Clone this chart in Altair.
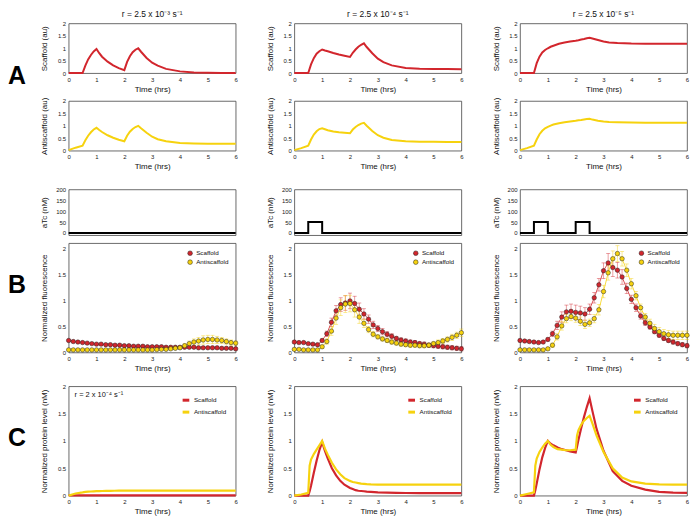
import altair as alt
import pandas as pd

FONT = "Liberation Sans"
RED = "#d2262d"
YELLOW = "#f6d20e"
SERIES = ["Scaffold", "Antiscaffold"]

# ---------------- Panel A: model traces ----------------
T_MODEL = [0, 0.25, 0.5, 0.6, 0.7, 0.8, 0.9, 1.0, 1.1, 1.2,
           1.4, 1.6, 1.8, 2.0, 2.1, 2.2, 2.3, 2.4, 2.5, 2.6,
           2.8, 3.0, 3.2, 3.5, 4.0, 4.5, 5.0, 5.5, 6.0]
SCAF_R3 = [0, 0, 0, 0.3, 0.55, 0.73, 0.87, 0.97, 0.8, 0.66,
           0.46, 0.31, 0.2, 0.12, 0.45, 0.68, 0.84, 0.94, 1.0, 0.86,
           0.61, 0.42, 0.3, 0.17, 0.07, 0.025, 0.01, 0.004, 0.0]
ANTI_R3 = [0.02, 0.12, 0.2, 0.42, 0.6, 0.74, 0.85, 0.92, 0.83, 0.75,
           0.62, 0.52, 0.44, 0.38, 0.6, 0.76, 0.87, 0.95, 1.0, 0.9,
           0.72, 0.56, 0.46, 0.38, 0.31, 0.29, 0.28, 0.28, 0.28]
SCAF_R4 = [0, 0, 0, 0.35, 0.6, 0.78, 0.88, 0.95, 0.91, 0.88,
           0.81, 0.75, 0.7, 0.65, 0.82, 0.95, 1.06, 1.14, 1.2, 1.05,
           0.8, 0.58, 0.44, 0.31, 0.21, 0.18, 0.17, 0.165, 0.16]
ANTI_R4 = [0.02, 0.1, 0.2, 0.45, 0.65, 0.78, 0.87, 0.9, 0.86, 0.82,
           0.77, 0.74, 0.72, 0.7, 0.85, 0.95, 1.03, 1.09, 1.12, 1.0,
           0.79, 0.62, 0.52, 0.43, 0.38, 0.36, 0.355, 0.35, 0.35]
SCAF_R5 = [0, 0, 0, 0.4, 0.66, 0.83, 0.93, 1.0, 1.06, 1.1,
           1.18, 1.23, 1.27, 1.3, 1.32, 1.35, 1.37, 1.4, 1.42, 1.39,
           1.33, 1.27, 1.23, 1.21, 1.19, 1.185, 1.18, 1.18, 1.18]
ANTI_R5 = [0.02, 0.1, 0.2, 0.45, 0.66, 0.8, 0.9, 0.96, 1.01, 1.05,
           1.1, 1.14, 1.17, 1.2, 1.22, 1.23, 1.25, 1.27, 1.28, 1.25,
           1.2, 1.17, 1.15, 1.14, 1.13, 1.125, 1.12, 1.12, 1.12]
TITLES = ["r = 2.5 x 10\u207b\u00b3 s\u207b\u00b9",
          "r = 2.5 x 10\u207b\u2074 s\u207b\u00b9",
          "r = 2.5 x 10\u207b\u2075 s\u207b\u00b9"]

# ---------------- Panel B: aTc input and fluorescence ----------------
ATC_T_1 = [0, 6]
ATC_1 = [0, 0]
ATC_T_2 = [0, 0.5, 1.0, 6]
ATC_2 = [0, 50, 0, 0]
ATC_T_3 = [0, 0.5, 1.0, 2.0, 2.5, 6]
ATC_3 = [0, 50, 0, 50, 0, 0]

T_FLUOR = [round(k / 6, 4) for k in range(37)]  # 10-minute samples
F_SCAF_1 = [0.23, 0.21, 0.2, 0.19, 0.18, 0.17, 0.16, 0.16, 0.15, 0.15,
            0.14, 0.14, 0.13, 0.13, 0.12, 0.12, 0.12, 0.11, 0.11, 0.11,
            0.11, 0.1, 0.1, 0.1, 0.1, 0.1, 0.1, 0.1, 0.09, 0.09,
            0.09, 0.09, 0.09, 0.08, 0.08, 0.08, 0.07]
F_ANTI_1 = [0.05, 0.05, 0.05, 0.05, 0.05, 0.05, 0.05, 0.05, 0.05, 0.05,
            0.05, 0.05, 0.05, 0.05, 0.05, 0.05, 0.05, 0.05, 0.05, 0.055,
            0.06, 0.06, 0.07, 0.08, 0.09, 0.13, 0.17, 0.2, 0.22, 0.24,
            0.25, 0.25, 0.24, 0.23, 0.21, 0.19, 0.18]
E_SCAF_1 = [0.02, 0.02, 0.02, 0.02, 0.02, 0.02, 0.02, 0.02, 0.02, 0.02,
            0.02, 0.02, 0.02, 0.02, 0.02, 0.02, 0.02, 0.02, 0.02, 0.02,
            0.02, 0.02, 0.02, 0.02, 0.02, 0.02, 0.02, 0.02, 0.02, 0.02,
            0.02, 0.02, 0.02, 0.02, 0.02, 0.02, 0.02]
E_ANTI_1 = [0.015, 0.015, 0.015, 0.015, 0.015, 0.015, 0.015, 0.015, 0.015, 0.015,
            0.015, 0.015, 0.015, 0.015, 0.015, 0.015, 0.015, 0.015, 0.015, 0.015,
            0.015, 0.015, 0.015, 0.015, 0.02, 0.04, 0.05, 0.06, 0.07, 0.08,
            0.08, 0.08, 0.07, 0.06, 0.05, 0.05, 0.04]
F_SCAF_2 = [0.2, 0.19, 0.19, 0.17, 0.16, 0.15, 0.23, 0.36, 0.58, 0.8,
            0.92, 0.95, 0.99, 0.94, 0.83, 0.74, 0.64, 0.53, 0.46, 0.4,
            0.35, 0.31, 0.27, 0.24, 0.22, 0.2, 0.19, 0.17, 0.16, 0.14,
            0.13, 0.12, 0.11, 0.1, 0.09, 0.08, 0.07]
F_ANTI_2 = [0.06, 0.06, 0.05, 0.05, 0.05, 0.05, 0.11, 0.21, 0.41, 0.66,
            0.86, 0.93, 0.94, 0.82, 0.68, 0.56, 0.44, 0.35, 0.3, 0.26,
            0.23, 0.2, 0.18, 0.16, 0.15, 0.14, 0.14, 0.13, 0.13, 0.14,
            0.17, 0.19, 0.22, 0.25, 0.29, 0.33, 0.38]
E_SCAF_2 = [0.02, 0.02, 0.02, 0.02, 0.02, 0.02, 0.03, 0.05, 0.08, 0.1,
            0.13, 0.14, 0.15, 0.14, 0.12, 0.1, 0.08, 0.07, 0.06, 0.06,
            0.05, 0.05, 0.04, 0.04, 0.04, 0.04, 0.04, 0.04, 0.04, 0.04,
            0.04, 0.04, 0.04, 0.04, 0.04, 0.04, 0.04]
E_ANTI_2 = [0.02, 0.02, 0.02, 0.02, 0.02, 0.02, 0.03, 0.05, 0.08, 0.12,
            0.15, 0.16, 0.16, 0.14, 0.12, 0.08, 0.06, 0.05, 0.04, 0.04,
            0.04, 0.04, 0.04, 0.04, 0.04, 0.04, 0.04, 0.04, 0.04, 0.04,
            0.04, 0.05, 0.05, 0.05, 0.06, 0.06, 0.07]
F_SCAF_3 = [0.23, 0.22, 0.21, 0.2, 0.19, 0.2, 0.25, 0.36, 0.52, 0.68,
            0.78, 0.79, 0.77, 0.76, 0.74, 0.83, 1.05, 1.3, 1.57, 1.72,
            1.63, 1.58, 1.45, 1.23, 1.02, 0.86, 0.7, 0.57, 0.49, 0.4,
            0.33, 0.27, 0.23, 0.2, 0.17, 0.15, 0.13]
F_ANTI_3 = [0.05, 0.05, 0.05, 0.05, 0.05, 0.05, 0.07, 0.14, 0.3, 0.51,
            0.65, 0.69, 0.66, 0.6, 0.54, 0.57, 0.65, 0.82, 1.17, 1.53,
            1.8, 1.9, 1.8, 1.58, 1.32, 1.09, 0.86, 0.68, 0.56, 0.46,
            0.4, 0.36, 0.34, 0.33, 0.33, 0.33, 0.33]
E_SCAF_3 = [0.02, 0.02, 0.02, 0.02, 0.02, 0.02, 0.03, 0.05, 0.08, 0.1,
            0.13, 0.14, 0.14, 0.13, 0.12, 0.1, 0.1, 0.12, 0.15, 0.18,
            0.17, 0.15, 0.14, 0.1, 0.08, 0.07, 0.06, 0.05, 0.04, 0.04,
            0.04, 0.04, 0.04, 0.04, 0.04, 0.04, 0.04]
E_ANTI_3 = [0.02, 0.02, 0.02, 0.02, 0.02, 0.02, 0.02, 0.04, 0.06, 0.08,
            0.08, 0.08, 0.08, 0.08, 0.08, 0.07, 0.08, 0.1, 0.12, 0.14,
            0.15, 0.15, 0.14, 0.12, 0.1, 0.08, 0.07, 0.07, 0.08, 0.08,
            0.08, 0.08, 0.08, 0.08, 0.08, 0.08, 0.08]

# ---------------- Panel C: normalized model protein ----------------
T_C = [0, 0.25, 0.5, 0.55, 0.6, 0.7, 0.8, 0.9, 1.0, 1.1,
       1.2, 1.35, 1.5, 1.65, 1.8, 2.0, 2.05, 2.1, 2.2, 2.3,
       2.4, 2.5, 2.6, 2.75, 3.0, 3.33, 3.67, 4.0, 4.5, 5.0,
       5.5, 6.0]
C_SCAF_1 = [0.005, 0.005, 0.005, 0.005, 0.005, 0.005, 0.005, 0.005, 0.005, 0.005,
            0.005, 0.005, 0.005, 0.005, 0.005, 0.005, 0.005, 0.005, 0.005, 0.005,
            0.005, 0.005, 0.005, 0.005, 0.005, 0.005, 0.005, 0.005, 0.005, 0.005,
            0.005, 0.005]
C_ANTI_1 = [0, 0.04, 0.06, 0.065, 0.068, 0.072, 0.076, 0.079, 0.082, 0.084,
            0.085, 0.087, 0.088, 0.089, 0.09, 0.09, 0.09, 0.09, 0.09, 0.09,
            0.09, 0.09, 0.09, 0.09, 0.09, 0.09, 0.09, 0.09, 0.09, 0.09,
            0.09, 0.09]
C_SCAF_2 = [0, 0, 0, 0.08, 0.18, 0.42, 0.64, 0.83, 0.98, 0.82,
            0.68, 0.5, 0.37, 0.27, 0.2, 0.14, 0.13, 0.12, 0.1, 0.09,
            0.085, 0.08, 0.075, 0.07, 0.06, 0.055, 0.05, 0.048, 0.046, 0.045,
            0.045, 0.045]
C_ANTI_2 = [0, 0.02, 0.05, 0.55, 0.66, 0.76, 0.84, 0.92, 1.0, 0.86,
            0.75, 0.6, 0.48, 0.39, 0.32, 0.27, 0.26, 0.25, 0.24, 0.23,
            0.22, 0.215, 0.21, 0.205, 0.2, 0.2, 0.2, 0.2, 0.2, 0.2,
            0.2, 0.2]
C_SCAF_3 = [0, 0, 0, 0.1, 0.22, 0.48, 0.7, 0.87, 1.0, 0.95,
            0.92, 0.88, 0.85, 0.83, 0.81, 0.79, 0.9, 1.02, 1.24, 1.44,
            1.62, 1.78, 1.55, 1.22, 0.82, 0.45, 0.27, 0.18, 0.11, 0.07,
            0.055, 0.05]
C_ANTI_3 = [0, 0.03, 0.06, 0.55, 0.68, 0.8, 0.88, 0.95, 1.0, 0.93,
            0.89, 0.85, 0.84, 0.83, 0.83, 0.84, 1.1, 1.2, 1.3, 1.37,
            1.42, 1.46, 1.32, 1.1, 0.8, 0.5, 0.33, 0.26, 0.22, 0.205,
            0.2, 0.2]
C_NOTE = "r = 2 x 10\u207b\u2074 s\u207b\u00b9"

# ---------------- layout ----------------
W = 168
H_A = 50
H_ATC = 46
H_F = 110
H_C = 110

XS = alt.Scale(domain=[0, 6], nice=False, zero=False)
CSCALE = alt.Scale(domain=SERIES, range=[RED, YELLOW])
SERIES_COLOR = {SERIES[0]: RED, SERIES[1]: YELLOW}


def x_axis():
    return alt.Axis(values=[0, 1, 2, 3, 4, 5, 6], format="d", labelFlush=False,
                    title="Time (hrs)")


def a_panel(times, vals, color, ytitle, title=None):
    df = pd.DataFrame({"t": times, "v": vals})
    ch = alt.Chart(df).mark_line(color=color, strokeWidth=2).encode(
        x=alt.X("t:Q", scale=XS, axis=x_axis()),
        y=alt.Y("v:Q", scale=alt.Scale(domain=[0, 2], nice=False),
                axis=alt.Axis(values=[0, 0.5, 1, 1.5, 2], format="~g", title=ytitle)),
    )
    if title:
        return ch.properties(width=W, height=H_A, title=alt.Title(title))
    return ch.properties(width=W, height=H_A)


def atc_panel(times, vals):
    df = pd.DataFrame({"t": times, "v": vals})
    return alt.Chart(df).mark_line(color="black", strokeWidth=2, interpolate="step-after").encode(
        x=alt.X("t:Q", scale=XS, axis=None),
        y=alt.Y("v:Q", scale=alt.Scale(domain=[-10, 200], nice=False),
                axis=alt.Axis(values=[0, 50, 100, 150, 200], title="aTc (nM)")),
    ).properties(width=W, height=H_ATC)


FLUOR_LEGEND = alt.Legend(
    orient="top-right", title=None, offset=7, padding=0, symbolType="circle",
    symbolSize=22, symbolStrokeColor="#222", symbolStrokeWidth=0.5,
    labelFontSize=6.3, rowPadding=1, labelOffset=3)


def fluor_panel(sc, an, esc, ean):
    n = len(T_FLUOR)
    df = pd.DataFrame({"t": T_FLUOR + T_FLUOR, "v": sc + an, "e": esc + ean,
                       "s": [SERIES[0]] * n + [SERIES[1]] * n})
    df["lo"] = df["v"] - df["e"]
    df["hi"] = df["v"] + df["e"]
    x = alt.X("t:Q", scale=XS, axis=x_axis())
    ysc = alt.Scale(domain=[0, 2.1], nice=False)
    yax = alt.Axis(values=[0, 0.5, 1, 1.5, 2], format="~g", title="Normalized fluorescence")
    layers = []
    for s in SERIES:
        sub = df[df["s"] == s]
        layers.append(alt.Chart(sub).mark_errorbar(
            ticks={"size": 4}, thickness=0.8, opacity=0.55, color=SERIES_COLOR[s]).encode(
            x=x, y=alt.Y("lo:Q", scale=ysc, axis=yax), y2="hi:Q"))
    for s in SERIES:
        sub = df[df["s"] == s]
        layers.append(alt.Chart(sub).mark_line(strokeWidth=0.8, color=SERIES_COLOR[s]).encode(
            x=x, y=alt.Y("v:Q", scale=ysc, axis=yax)))
    layers.append(alt.Chart(df).mark_point(
        filled=True, size=20, stroke="#222", strokeWidth=0.5, opacity=1).encode(
        x=x, y=alt.Y("v:Q", scale=ysc, axis=yax),
        color=alt.Color("s:N", scale=CSCALE, legend=FLUOR_LEGEND)))
    return alt.layer(*layers).properties(width=W, height=H_F)


def c_panel(sc, an, note=None):
    n = len(T_C)
    df = pd.DataFrame({"t": T_C + T_C, "v": sc + an, "s": [SERIES[0]] * n + [SERIES[1]] * n})
    lines = alt.Chart(df).mark_line(strokeWidth=2.2).encode(
        x=alt.X("t:Q", scale=XS, axis=x_axis()),
        y=alt.Y("v:Q", scale=alt.Scale(domain=[0, 2], nice=False),
                axis=alt.Axis(values=[0, 0.5, 1, 1.5, 2], format="~g",
                              title="Normalized protein level (nM)")),
        color=alt.Color("s:N", scale=CSCALE, legend=alt.Legend(
            orient="top-right", title=None, offset=9, padding=0, symbolType="stroke",
            symbolStrokeWidth=3, symbolSize=45, labelFontSize=6.3, rowPadding=0,
            labelOffset=3)),
    )
    layers = [lines]
    if note:
        layers.append(alt.Chart(alt.Data(values=[{}])).mark_text(
            text=note, align="left", baseline="middle", fontSize=7.5, font=FONT, color="#111"
        ).encode(x=alt.value(6), y=alt.value(9)))
    return alt.layer(*layers).properties(width=W, height=H_C)


def vcat(*charts, spacing):
    return alt.vconcat(*charts, spacing=spacing).resolve_scale(
        x="independent", y="independent", color="independent"
    ).resolve_legend(color="independent")


def column(i, scaf, anti, atc_t, atc, fs, fa, es, ea, cs, ca, note=None):
    group_a = vcat(a_panel(T_MODEL, scaf, RED, "Scaffold (au)", TITLES[i]),
                   a_panel(T_MODEL, anti, YELLOW, "Antiscaffold (au)"), spacing=2)
    group_b = vcat(atc_panel(atc_t, atc), fluor_panel(fs, fa, es, ea), spacing=4)
    return vcat(vcat(group_a, group_b, spacing=14), c_panel(cs, ca, note), spacing=9)


col1 = column(0, SCAF_R3, ANTI_R3, ATC_T_1, ATC_1, F_SCAF_1, F_ANTI_1, E_SCAF_1, E_ANTI_1,
              C_SCAF_1, C_ANTI_1, C_NOTE)
col2 = column(1, SCAF_R4, ANTI_R4, ATC_T_2, ATC_2, F_SCAF_2, F_ANTI_2, E_SCAF_2, E_ANTI_2,
              C_SCAF_2, C_ANTI_2)
col3 = column(2, SCAF_R5, ANTI_R5, ATC_T_3, ATC_3, F_SCAF_3, F_ANTI_3, E_SCAF_3, E_ANTI_3,
              C_SCAF_3, C_ANTI_3)


def letter(txt, ypix):
    return alt.Chart(alt.Data(values=[{}])).mark_text(
        text=txt, fontSize=25, fontWeight="bold", font=FONT, align="left", baseline="middle",
        color="black").encode(x=alt.value(0), y=alt.value(ypix))


letters = alt.layer(letter("A", 53), letter("B", 263), letter("C", 417)).properties(
    width=18, height=450, view=alt.ViewBackground(strokeOpacity=0))

cols = alt.hconcat(col1, col2, col3, spacing=25).resolve_scale(
    x="independent", y="independent", color="independent"
).resolve_legend(color="independent")

top = alt.hconcat(letters, cols, spacing=13).resolve_scale(
    x="independent", y="independent", color="independent"
).resolve_legend(color="independent").properties(
    padding=0, background="white")

chart = top.configure_axis(
    labelFontSize=6, titleFontSize=8, labelFont=FONT, titleFont=FONT,
    titleFontWeight="normal", labelColor="#222", titleColor="#111",
    domain=False, ticks=False, grid=False, labelPadding=3,
).configure_axisY(minExtent=16, maxExtent=16, titlePadding=4
).configure_axisX(titlePadding=3
).configure_view(stroke="#444", strokeWidth=0.8
).configure_legend(labelFont=FONT, labelColor="#111"
).configure_title(font=FONT, fontSize=8.5, fontWeight="normal", offset=2, color="#111")

chart.save("out.html", embed_options={"renderer": "svg", "actions": False})
